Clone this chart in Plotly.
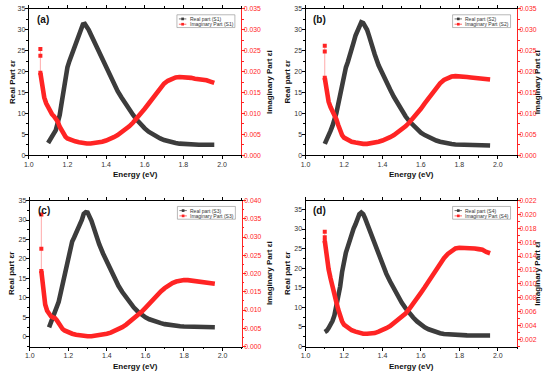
import plotly.graph_objects as go

W, H = 550, 376
FONT = "Liberation Sans, Arial, sans-serif"
BLACK = "#3c3c3c"
RED = "#ff2424"

# ---------------- data ----------------
panel_labels = ["(a)", "(b)", "(c)", "(d)"]
samples = ["S1", "S2", "S3", "S4"]
real_titles = ["Real Part εr", "Real part εr", "Real part εr", "Real part εr"]
imag_title = "Imaginary Part εi"
x_title = "Energy (eV)"

energy_real = [1.10, 1.11, 1.12, 1.13, 1.14, 1.15, 1.16, 1.17, 1.18, 1.19, 1.20, 1.21, 1.22,
               1.23, 1.24, 1.25, 1.26, 1.27, 1.28, 1.29, 1.30, 1.31, 1.32, 1.33, 1.34,
               1.36, 1.38, 1.40, 1.42, 1.44, 1.46, 1.48, 1.50, 1.52, 1.54, 1.56, 1.58,
               1.60, 1.62, 1.64, 1.66, 1.68, 1.70, 1.72, 1.74, 1.76, 1.78, 1.80,
               1.84, 1.88, 1.92, 1.96]

real_s1 = [2.9, 3.6, 4.3, 5.0, 6.0, 7.8, 9.6, 12.5, 15.5, 18.5, 21.0, 22.5, 23.8,
           25.3, 26.8, 28.0, 29.2, 30.3, 31.3, 31.4, 30.8, 30.0, 29.0, 28.0, 27.0,
           24.9, 22.8, 20.8, 18.8, 17.0, 15.3, 13.8, 12.3, 10.9, 9.6, 8.4, 7.3,
           6.4, 5.6, 5.0, 4.4, 4.0, 3.6, 3.3, 3.1, 2.9, 2.75, 2.65,
           2.55, 2.5, 2.5, 2.5]
real_s2 = [2.7, 4.0, 4.8, 5.8, 7.0, 8.3, 10.0, 12.2, 14.5, 16.8, 19.0, 21.0, 22.3,
           23.6, 25.3, 27.0, 28.6, 29.8, 31.0, 31.8, 31.6, 31.0, 30.0, 28.6, 26.8,
           24.1, 21.5, 19.4, 17.5, 15.7, 13.9, 12.2, 10.7, 9.3, 8.1, 7.1, 6.2,
           5.4, 4.8, 4.3, 3.9, 3.5, 3.2, 2.95, 2.8, 2.65, 2.55, 2.5,
           2.4, 2.35, 2.3, 2.3]
real_s3 = [2.4, 3.6, 5.2, 6.3, 7.3, 9.0, 11.2, 13.6, 16.0, 18.4, 21.0, 23.0, 24.5,
           25.5, 26.6, 27.8, 28.6, 30.0, 31.6, 32.0, 31.9, 31.0, 29.8, 28.3, 26.7,
           23.8, 21.4, 19.2, 17.1, 15.0, 13.1, 11.5, 10.0, 8.7, 7.5, 6.5, 5.7,
           5.0, 4.5, 4.1, 3.8, 3.5, 3.25, 3.05, 2.9, 2.8, 2.7, 2.65,
           2.55, 2.5, 2.45, 2.45]
real_s4 = [3.7, 4.0, 4.7, 5.4, 6.5, 7.9, 10.0, 12.6, 15.3, 19.0, 22.4, 24.0, 25.5,
           27.3, 29.0, 30.1, 31.2, 32.6, 33.8, 34.2, 33.8, 32.7, 31.4, 29.8, 28.4,
           25.8, 23.2, 20.8, 18.6, 16.6, 14.6, 12.9, 11.2, 9.8, 8.5, 7.4, 6.4,
           5.5, 4.9, 4.4, 4.0, 3.7, 3.4, 3.2, 3.1, 3.0, 2.95, 2.9,
           2.85, 2.8, 2.8, 2.8]

energy_imag_early = [1.06, 1.07, 1.08, 1.09, 1.10, 1.11, 1.12, 1.13, 1.14, 1.15, 1.16, 1.17,
                     1.18, 1.19, 1.20, 1.22, 1.24, 1.26, 1.28, 1.30, 1.32, 1.34, 1.36,
                     1.38, 1.40, 1.42, 1.44, 1.46, 1.48, 1.50, 1.52, 1.54, 1.56, 1.58,
                     1.60, 1.62, 1.64, 1.66, 1.68, 1.70, 1.72, 1.74, 1.76, 1.78, 1.80,
                     1.82, 1.84, 1.86, 1.88, 1.90, 1.92, 1.94, 1.96]
energy_imag = [1.10, 1.11, 1.12, 1.13, 1.14, 1.15, 1.16, 1.17,
               1.18, 1.19, 1.20, 1.22, 1.24, 1.26, 1.28, 1.30, 1.32, 1.34, 1.36,
               1.38, 1.40, 1.42, 1.44, 1.46, 1.48, 1.50, 1.52, 1.54, 1.56, 1.58,
               1.60, 1.62, 1.64, 1.66, 1.68, 1.70, 1.72, 1.74, 1.76, 1.78, 1.80,
               1.82, 1.84, 1.86, 1.88, 1.90, 1.92, 1.94, 1.96]

imag_s1 = [0.0197, 0.0160, 0.0138, 0.0124, 0.0114, 0.0105, 0.0098, 0.0093, 0.0088, 0.0080,
           0.0068, 0.0058, 0.0049, 0.0044, 0.0040, 0.0036, 0.0033, 0.0031, 0.0029, 0.0028,
           0.0028, 0.0029, 0.0030, 0.0032, 0.0035, 0.0038, 0.0043, 0.0048, 0.0054, 0.0061,
           0.0069, 0.0078, 0.0088, 0.0099, 0.0111, 0.0123, 0.0136, 0.0149, 0.0161, 0.0171,
           0.0178, 0.0183, 0.0186, 0.0187, 0.0187, 0.0186, 0.0185, 0.0183, 0.0182, 0.0180,
           0.0179, 0.0176, 0.0173]
imag_s2 = [0.0185, 0.0145, 0.0128, 0.0115, 0.0106, 0.0098, 0.0086, 0.0072, 0.0058, 0.0048,
           0.0042, 0.0036, 0.0032, 0.0030, 0.0028, 0.0027, 0.0027, 0.0028, 0.0030, 0.0032,
           0.0035, 0.0038, 0.0043, 0.0048, 0.0054, 0.0061, 0.0069, 0.0078, 0.0088, 0.0099,
           0.0111, 0.0124, 0.0137, 0.0150, 0.0162, 0.0172, 0.0180, 0.0185, 0.0188, 0.0189,
           0.0189, 0.0188, 0.0187, 0.0186, 0.0185, 0.0184, 0.0183, 0.0182, 0.0181]
imag_s3 = [0.0207, 0.0150, 0.0115, 0.0098, 0.0088, 0.0083, 0.0080, 0.0078, 0.0072, 0.0063,
           0.0055, 0.0048, 0.0044, 0.0041, 0.0038, 0.0035, 0.0032, 0.0030, 0.0029, 0.0028,
           0.0028, 0.0029, 0.0030, 0.0032, 0.0035, 0.0038, 0.0042, 0.0047, 0.0053, 0.0060,
           0.0068, 0.0077, 0.0086, 0.0095, 0.0106, 0.0118, 0.0130, 0.0141, 0.0151, 0.0160,
           0.0168, 0.0174, 0.0178, 0.0181, 0.0182, 0.0182, 0.0181, 0.0180, 0.0179, 0.0178,
           0.0176, 0.0175, 0.0172]
imag_s4 = [0.0162, 0.0138, 0.0121, 0.0108, 0.0094, 0.0086, 0.0074, 0.0063, 0.0053, 0.0046,
           0.0041, 0.0036, 0.0033, 0.0031, 0.0029, 0.0028, 0.0028, 0.0028, 0.0029, 0.0031,
           0.0033, 0.0036, 0.0039, 0.0043, 0.0047, 0.0052, 0.0057, 0.0064, 0.0071, 0.0079,
           0.0087, 0.0095, 0.0104, 0.0113, 0.0122, 0.0130, 0.0137, 0.0143, 0.0148, 0.0151,
           0.0152, 0.0152, 0.0152, 0.0151, 0.0151, 0.0150, 0.0149, 0.0146, 0.0144]

# first isolated points of the imaginary part (stacked at the start energy)
imag_spike_s1 = [0.0254, 0.0238]
imag_spike_s2 = [0.0262, 0.0248]
imag_spike_s3 = [0.0362, 0.0268]
imag_spike_s4 = [0.0175, 0.0167]

real_data = [real_s1, real_s2, real_s3, real_s4]
imag_energy = [energy_imag_early, energy_imag, energy_imag_early, energy_imag]
imag_data = [imag_s1, imag_s2, imag_s3, imag_s4]
imag_spikes = [imag_spike_s1, imag_spike_s2, imag_spike_s3, imag_spike_s4]

# ---------------- layout geometry (pixels) ----------------
frames = [  # x0, x1, y_top, y_bottom
    (24.0, 238.5, 5.0, 154.0),
    (303.3, 516.7, 5.0, 154.0),
    (25.0, 239.0, 200.3, 349.0),
    (303.3, 516.7, 200.3, 349.0),
]
left_ranges = [(0, 35), (0, 35), (-2.5, 35), (0, 37.26)]
right_ranges = [(0, 0.035), (0, 0.035), (0, 0.040), (0.00096, 0.022)]
right_dticks = [0.005, 0.005, 0.005, 0.002]
left_title_x = [7.0, 285.0, 6.5, 285.0]
right_title_x = [266.5, 537.0, 267.0, 537.0]
x_title_y = [174.0, 174.0, 369.0, 369.0]


def px(x):
    return x / W


def py(y):
    return 1 - y / H


fig = go.Figure()
layout = dict(
    width=W, height=H, margin=dict(l=0, r=0, t=0, b=0),
    paper_bgcolor="white", plot_bgcolor="rgba(0,0,0,0)",
    showlegend=False, font=dict(family=FONT, color="#222"),
)
shapes = []
annotations = []

tickfont = dict(family=FONT, size=7, color="#333")
titlefont = dict(family=FONT, size=8, color="#111")

for i in range(4):
    x0, x1, yt, yb = frames[i]
    xname = "xaxis" if i == 0 else f"xaxis{i + 1}"
    xref = "x" if i == 0 else f"x{i + 1}"
    li, ri = 2 * i + 1, 2 * i + 2
    lname = "yaxis" if li == 1 else f"yaxis{li}"
    lref = "y" if li == 1 else f"y{li}"
    rname = f"yaxis{ri}"
    rref = f"y{ri}"

    layout[xname] = dict(
        domain=[px(x0), px(x1)], anchor=lref, range=[1.0, 2.1],
        tick0=1.0, dtick=0.2, tickformat=".1f",
        ticks="outside", ticklen=3, tickwidth=1, tickcolor="black",
        minor=dict(dtick=0.1, ticks="outside", ticklen=1.5, tickcolor="black", tickwidth=1),
        showline=True, linecolor="black", linewidth=1, mirror="ticks",
        showgrid=False, zeroline=False, tickfont=tickfont, ticklabelstandoff=-1,
    )
    layout[lname] = dict(
        domain=[py(yb), py(yt)], anchor=xref, range=list(left_ranges[i]),
        tick0=0, dtick=5, ticks="outside", ticklen=3, tickwidth=1, tickcolor="black",
        minor=dict(dtick=2.5, ticks="outside", ticklen=1.5, tickcolor="black", tickwidth=1),
        showline=True, linecolor="black", linewidth=1,
        showgrid=False, zeroline=False, tickfont=tickfont, ticklabelstandoff=-2,
    )
    rd = right_dticks[i]
    layout[rname] = dict(
        overlaying=lref, side="right", anchor=xref, range=list(right_ranges[i]),
        tick0=0, dtick=rd, tickformat=".3f",
        ticks="outside", ticklen=3, tickwidth=1, tickcolor=RED,
        minor=dict(dtick=rd / 2, ticks="outside", ticklen=1.5, tickcolor=RED, tickwidth=1),
        showline=True, linecolor=RED, linewidth=1.2,
        showgrid=False, zeroline=False, ticklabelstandoff=-3,
        tickfont=dict(family=FONT, size=6.8, color=RED),
    )

    # real part
    fig.add_trace(go.Scatter(
        x=energy_real, y=real_data[i], xaxis=xref, yaxis=lref, mode="lines",
        line=dict(color=BLACK, width=4.6), name=f"Real part ({samples[i]})",
        hoverinfo="x+y",
    ))
    # imaginary part: first isolated points
    e0 = imag_energy[i][0]
    spike_y = imag_spikes[i] + [imag_data[i][0]]
    fig.add_trace(go.Scatter(
        x=[e0] * len(spike_y), y=spike_y, xaxis=xref, yaxis=rref, mode="lines+markers",
        line=dict(color="rgba(255,60,60,0.55)", width=0.8),
        marker=dict(symbol="square", size=4, color=RED),
        name=f"Imaginary Part ({samples[i]})", hoverinfo="x+y",
    ))
    fig.add_trace(go.Scatter(
        x=imag_energy[i], y=imag_data[i], xaxis=xref, yaxis=rref, mode="lines",
        line=dict(color=RED, width=4.6), name=f"Imaginary Part ({samples[i]})",
        hoverinfo="x+y",
    ))

    # axis titles
    annotations.append(dict(
        text="<b>" + real_titles[i] + "</b>", x=px(left_title_x[i]), y=py((yt + yb) / 2),
        xref="paper", yref="paper", xanchor="center", yanchor="middle", textangle=-90,
        showarrow=False, font=titlefont,
    ))
    annotations.append(dict(
        text="<b>" + imag_title + "</b>", x=px(right_title_x[i]), y=py((yt + yb) / 2),
        xref="paper", yref="paper", xanchor="center", yanchor="middle", textangle=-90,
        showarrow=False, font=titlefont,
    ))
    annotations.append(dict(
        text="<b>" + x_title + "</b>", x=px((x0 + x1) / 2), y=py(x_title_y[i]),
        xref="paper", yref="paper", xanchor="center", yanchor="middle",
        showarrow=False, font=titlefont,
    ))

    # panel label
    annotations.append(dict(
        text="<b>" + panel_labels[i] + "</b>", x=px(x0 + 6), y=py(yt + 10.5),
        xref="paper", yref="paper", xanchor="left", yanchor="middle",
        showarrow=False, font=dict(family=FONT, size=10, color="#111"),
    ))

    # legend box
    bx0, bx1 = x1 - 65.0, x1 - 6.5
    by0, by1 = yt + 6.0, yt + 19.0
    shapes.append(dict(type="rect", xref="paper", yref="paper",
                       x0=px(bx0), x1=px(bx1), y0=py(by1), y1=py(by0),
                       line=dict(color="#8a8a8a", width=0.6), fillcolor="white", layer="above"))
    for k, (col, lab) in enumerate([(BLACK, f"Real part ({samples[i]})"),
                                    (RED, f"Imaginary Part ({samples[i]})")]):
        ry = by0 + 4.2 + k * 5.4
        shapes.append(dict(type="line", xref="paper", yref="paper",
                           x0=px(bx0 + 2), x1=px(bx0 + 9.5), y0=py(ry), y1=py(ry),
                           line=dict(color=col, width=0.7), layer="above"))
        shapes.append(dict(type="rect", xref="paper", yref="paper",
                           x0=px(bx0 + 4.4), x1=px(bx0 + 7.1), y0=py(ry + 1.35), y1=py(ry - 1.35),
                           line=dict(width=0), fillcolor=col, layer="above"))
        annotations.append(dict(
            text=lab, x=px(bx0 + 11), y=py(ry), xref="paper", yref="paper",
            xanchor="left", yanchor="middle", showarrow=False,
            font=dict(family=FONT, size=5, color="#333"),
        ))

layout["shapes"] = shapes
layout["annotations"] = annotations
fig.update_layout(**layout)
fig.write_html(
    "out.html",
    config={"displayModeBar": False},
    post_script="document.body.style.margin='0';document.body.style.overflow='hidden';",
)
